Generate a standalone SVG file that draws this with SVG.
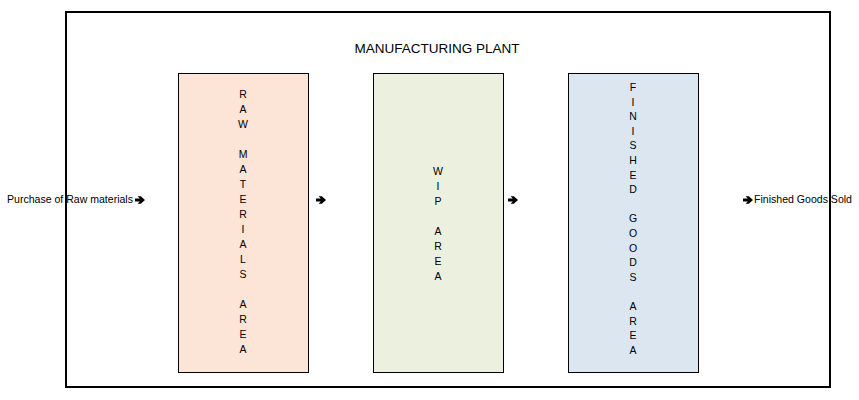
<svg xmlns="http://www.w3.org/2000/svg" width="859" height="400" viewBox="0 0 859 400">
<style>
.t{font-family:"Liberation Sans",Arial,sans-serif;font-size:11px;fill:#000}
.v{font-family:"Liberation Sans",Arial,sans-serif;font-size:10.5px;fill:#000;text-anchor:middle}
.box{stroke:#000;stroke-width:1}
</style>
<defs>
<path id="arr" d="M-5,-1.4 H-0.3 L-2.4,-3.8 H0.8 L5,0 L0.8,3.8 H-2.4 L-0.3,1.4 H-5 Z" fill="#000"/>
</defs>
<rect width="859" height="400" fill="#fff"/>
<g id="plant">
<rect x="66" y="12" width="764" height="375" fill="none" stroke="#000" stroke-width="2"/>
<text x="437" y="53" font-family="'Liberation Sans',Arial,sans-serif" font-size="13.5" text-anchor="middle">MANUFACTURING PLANT</text>
</g>
<g id="raw">
<rect class="box" x="178.5" y="73.5" width="130" height="299" fill="#FCE4D6"/>
<text class="v"><tspan x="243" y="98">R</tspan><tspan x="243" y="113">A</tspan><tspan x="243" y="128">W</tspan><tspan x="243" y="158">M</tspan><tspan x="243" y="173">A</tspan><tspan x="243" y="188">T</tspan><tspan x="243" y="203">E</tspan><tspan x="243" y="218">R</tspan><tspan x="243" y="233">I</tspan><tspan x="243" y="248">A</tspan><tspan x="243" y="263">L</tspan><tspan x="243" y="278">S</tspan><tspan x="243" y="308">A</tspan><tspan x="243" y="323">R</tspan><tspan x="243" y="338">E</tspan><tspan x="243" y="353">A</tspan></text>
</g>
<g id="wip">
<rect class="box" x="373.5" y="73.5" width="130" height="299" fill="#EBF1DE"/>
<text class="v"><tspan x="438" y="175">W</tspan><tspan x="438" y="190">I</tspan><tspan x="438" y="205">P</tspan><tspan x="438" y="235">A</tspan><tspan x="438" y="250">R</tspan><tspan x="438" y="265">E</tspan><tspan x="438" y="280">A</tspan></text>
</g>
<g id="finished">
<rect class="box" x="568.5" y="73.5" width="130" height="299" fill="#DCE6F1"/>
<text class="v"><tspan x="633" y="91">F</tspan><tspan x="633" y="105.6">I</tspan><tspan x="633" y="120.2">N</tspan><tspan x="633" y="134.8">I</tspan><tspan x="633" y="149.4">S</tspan><tspan x="633" y="164">H</tspan><tspan x="633" y="178.6">E</tspan><tspan x="633" y="193.2">D</tspan><tspan x="633" y="222.4">G</tspan><tspan x="633" y="237">O</tspan><tspan x="633" y="251.6">O</tspan><tspan x="633" y="266.2">D</tspan><tspan x="633" y="280.8">S</tspan><tspan x="633" y="310">A</tspan><tspan x="633" y="324.6">R</tspan><tspan x="633" y="339.2">E</tspan><tspan x="633" y="353.8">A</tspan></text>
</g>
<g id="purchase">
<text class="t" x="7" y="203" textLength="126" lengthAdjust="spacingAndGlyphs">Purchase of Raw materials</text>
</g>
<g id="sold">
<text class="t" x="754" y="203" textLength="98" lengthAdjust="spacingAndGlyphs">Finished Goods Sold</text>
</g>
<g id="connectors">
<use href="#arr" x="140" y="200"/>
<use href="#arr" x="321" y="200"/>
<use href="#arr" x="513" y="200"/>
<use href="#arr" x="748" y="200"/>
</g>
</svg>
